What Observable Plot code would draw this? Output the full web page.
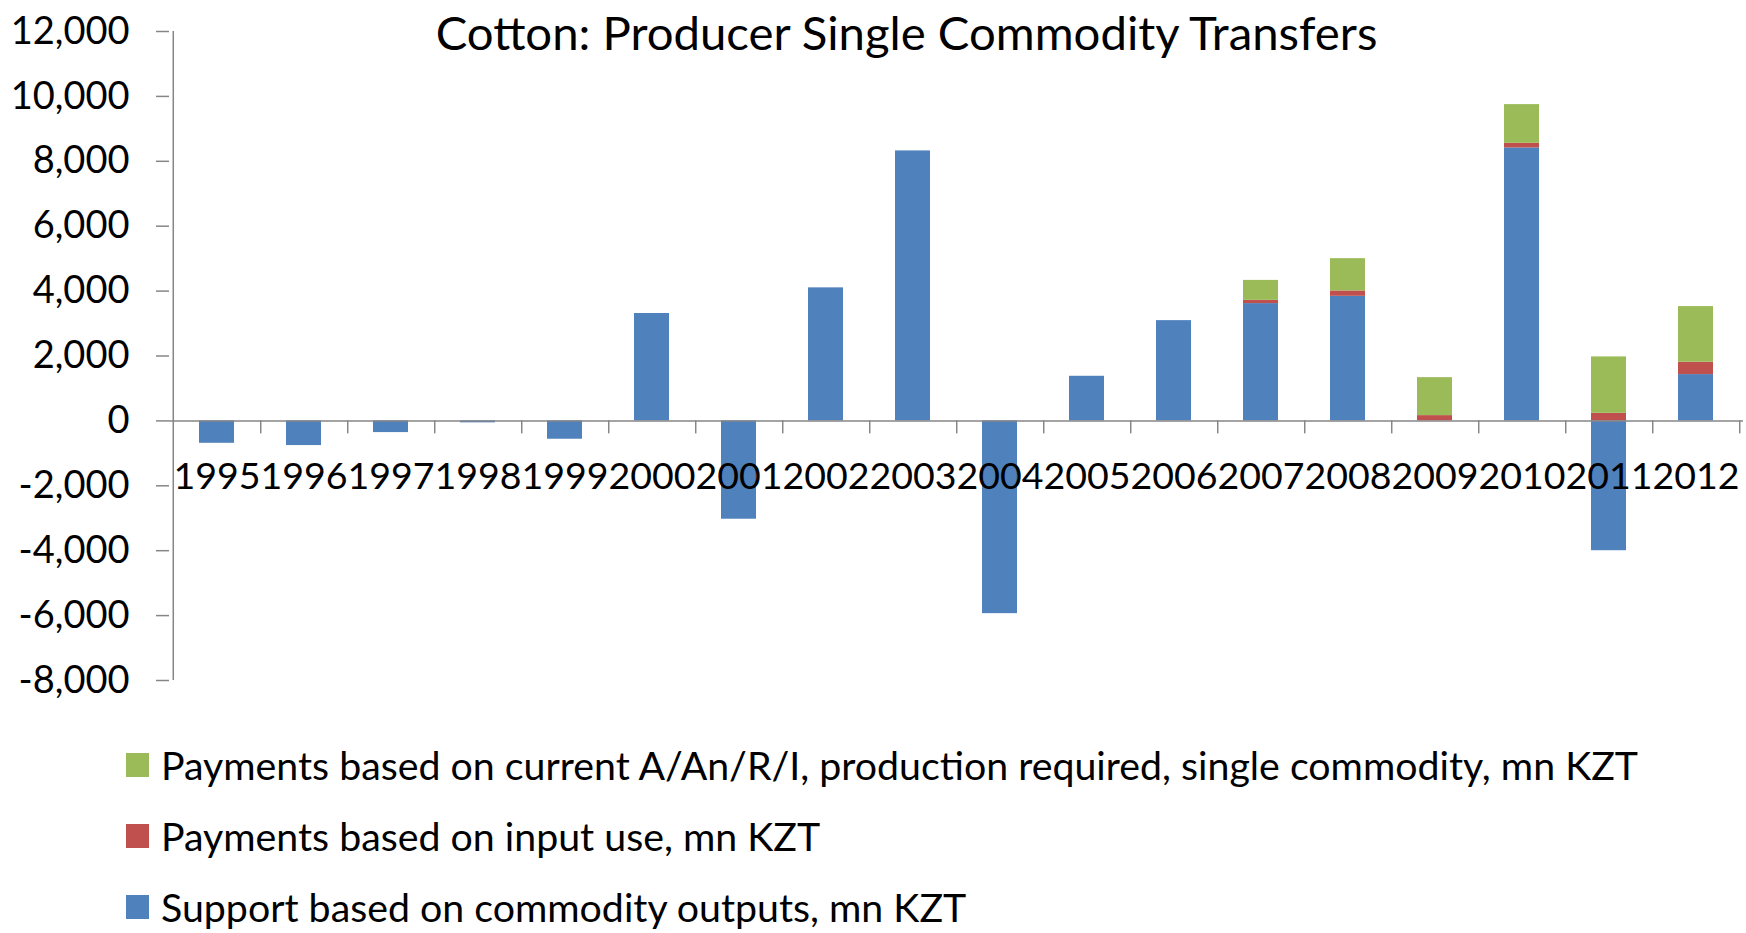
<!DOCTYPE html>
<html>
<head>
<meta charset="utf-8">
<script src="https://cdn.jsdelivr.net/npm/d3@7"></script>
<script src="https://cdn.jsdelivr.net/npm/@observablehq/plot@0.6"></script>
<style>
  html, body { margin: 0; padding: 0; background: #fff; overflow: hidden; }
  #chart { width: 1746px; height: 933px; position: relative; font-family: Lato, sans-serif; }
  .legend { padding-top: 29px; }
  .legend .row { height: 71px; display: flex; align-items: center; font-size: 39.3px; line-height: 1.15; color: #000; }
  .legend .sw { width: 23px; height: 24px; margin-left: 126px; margin-right: 12px; flex: none; }
</style>
</head>
<body>
<div id="chart"></div>
<script>
const years = ["1995","1996","1997","1998","1999","2000","2001","2002","2003","2004","2005","2006","2007","2008","2009","2010","2011","2012"];
const supportOutputs = [-690, -760, -360, -60, -565, 3310, -3030, 4100, 8320, -5940, 1375, 3090, 3615, 3840, 0, 8413, -4000, 1427];
const inputUse =       [0, 0, 0, 0, 0, 0, 0, 0, 0, 0, 0, 0, 100, 165, 163, 142, 234, 380];
const currentPayments =[0, 0, 0, 0, 0, 0, 0, 0, 0, 0, 0, 0, 615, 995, 1170, 1192, 1738, 1716];
const seriesNames = [
  "Payments based on current A/An/R/I, production required, single commodity, mn KZT",
  "Payments based on input use, mn KZT",
  "Support based on commodity outputs, mn KZT"
];
const seriesColors = ["#9BBB59", "#C0504D", "#4F81BD"];
const yTicks = [-8000, -6000, -4000, -2000, 0, 2000, 4000, 6000, 8000, 10000, 12000];
const title = "Cotton: Producer Single Commodity Transfers";

// stacking order: support (bottom), input use, current payments (top)
const rows = years.flatMap((year, i) => [
  {year, series: seriesNames[2], value: supportOutputs[i]},
  {year, series: seriesNames[1], value: inputUse[i]},
  {year, series: seriesNames[0], value: currentPayments[i]}
]);

const W = 1746, H = 700, ML = 169, MR = 3, MT = 31, MB = 20;
const step = (W - ML - MR) / years.length;
const axisGray = "#868686";

const chart = Plot.plot({
  width: W,
  height: H,
  marginLeft: ML,
  marginRight: MR,
  marginTop: MT,
  marginBottom: MB,
  style: {fontFamily: "Lato, sans-serif", fontSize: "37px", color: "#000", background: "#fff"},
  x: {domain: years, paddingInner: 0.6, paddingOuter: 0.3, axis: null},
  y: {domain: [-8000, 12000], axis: null},
  color: {domain: seriesNames, range: seriesColors},
  marks: [
    Plot.barY(rows, {x: "year", y: "value", fill: "series"}),
    Plot.ruleY([0], {stroke: axisGray, strokeWidth: 1.5}),
    Plot.ruleX(years, {x: d => d, y1: 0, y2: -400, dx: step / 2, stroke: axisGray, strokeWidth: 1.5}),
    Plot.ruleX([years[0]], {x: d => d, y1: -8000, y2: 12000, dx: -step / 2, stroke: axisGray, strokeWidth: 1.5}),
    Plot.axisY({ticks: yTicks, label: null, tickSize: 13, tickPadding: 27, stroke: axisGray, strokeWidth: 1.5, fill: "#000",
                fontSize: 38, tickFormat: d => d.toLocaleString("en-US")}),
    Plot.text(years, {x: d => d, y: 0, text: d => d, dy: 56, fontSize: 37.5, fill: "#000", lineAnchor: "middle"}),
    Plot.text([title], {frameAnchor: "top", text: d => d, dx: -50, dy: 3, lineAnchor: "middle", fontSize: 47.3, fill: "#000"})
  ]
});

const root = document.getElementById("chart");
root.appendChild(chart);

const legend = document.createElement("div");
legend.className = "legend";
const colorScale = chart.scale("color");
seriesNames.forEach(name => {
  const row = document.createElement("div");
  row.className = "row";
  const sw = document.createElement("span");
  sw.className = "sw";
  sw.style.background = colorScale.apply(name);
  const label = document.createElement("span");
  label.textContent = name;
  row.appendChild(sw);
  row.appendChild(label);
  legend.appendChild(row);
});
root.appendChild(legend);
</script>
</body>
</html>
